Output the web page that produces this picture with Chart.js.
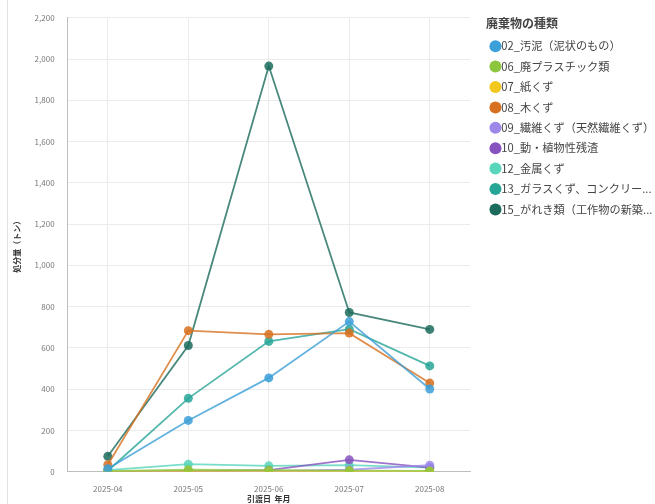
<!DOCTYPE html>
<html lang="ja">
<head>
<meta charset="utf-8">
<title>廃棄物の種類別 処分量</title>
<script src="https://cdn.jsdelivr.net/npm/chart.js@4"></script>
<style>
  html, body { margin: 0; padding: 0; background: #fff; }
  #wrap { position: relative; height: 504px; width: 648px; margin-left: 7px; box-sizing: border-box; border-left: 1px solid #e2e2e2; }
</style>
</head>
<body>
<div id="wrap"><canvas id="wasteChart"></canvas></div>
<script>
const months = ['2025-04', '2025-05', '2025-06', '2025-07', '2025-08']

const wasteTypes = [
  '02_汚泥（泥状のもの）',
  '06_廃プラスチック類',
  '07_紙くず',
  '08_木くず',
  '09_繊維くず（天然繊維くず）',
  '10_動・植物性残渣',
  '12_金属くず',
  '13_ガラスくず、コンクリートくず及び陶磁器くず',
  '15_がれき類（工作物の新築、改築又は除去に伴って生じたコンクリートの破片）'
]

const sludge   = [15, 249, 455, 728, 401]
const plastic  = [3, 10, 8, 6, 4]
const paper    = [1, 3, 2, 2, 1]
const wood     = [34, 684, 666, 672, 430]
const fiber    = [0, 0, 3, 10, 32]
const residue  = [0, 2, 8, 58, 20]
const metal    = [8, 37, 29, 32, 20]
const glass    = [5, 356, 632, 691, 513]
const rubble   = [75, 612, 1966, 772, 690]

const seriesValues = [sludge, plastic, paper, wood, fiber, residue, metal, glass, rubble]
const colors = ['#3b9fd8', '#8cc63f', '#f2c81e', '#d7701f', '#9d88ea', '#8753bf', '#58d6bb', '#27a597', '#1c6b5d']

const yTicks = { min: 0, max: 2200, step: 200 }

function alpha(hex, a) {
  const n = parseInt(hex.slice(1), 16)
  return `rgba(${(n >> 16) & 255}, ${(n >> 8) & 255}, ${n & 255}, ${a})`
}

const datasets = wasteTypes.map((name, i) => ({
  label: name,
  data: seriesValues[i],
  borderColor: alpha(colors[i], 0.8),
  backgroundColor: alpha(colors[i], 0.85),
  pointBackgroundColor: alpha(colors[i], 0.85),
  pointBorderWidth: 0,
  borderWidth: 1.8,
  pointRadius: 4.5,
  pointHoverRadius: 6,
  tension: 0
}))

// cut long legend names so they fit beside the plot
function shorten(ctx, text, maxW) {
  if (ctx.measureText(text).width <= maxW) return text
  let t = text
  while (t.length > 1 && ctx.measureText(t + '...').width > maxW) t = t.slice(0, -1)
  return t + '...'
}

const fontFamily = '"Noto Sans CJK JP", "Noto Sans", sans-serif'
const legendSize = 11.2
const ctx = document.getElementById('wasteChart').getContext('2d')

const myChart = new Chart(ctx, {
  type: 'line',
  data: { labels: months, datasets: datasets },
  options: {
    responsive: true,
    maintainAspectRatio: false,
    animation: false,
    layout: { padding: { top: 12, right: 0, bottom: 0, left: 4 } },
    plugins: {
      legend: {
        position: 'right',
        align: 'start',
        maxWidth: 169,
        title: {
          display: true,
          position: 'start',
          text: '廃棄物の種類',
          color: '#444',
          font: { family: fontFamily, size: 12, weight: 'bold' },
          padding: { top: 5, bottom: 0 }
        },
        labels: {
          usePointStyle: true,
          pointStyle: 'circle',
          boxWidth: 0.5,
          boxHeight: 8.5,
          padding: 9.2,
          color: '#444',
          font: { family: fontFamily, size: legendSize },
          generateLabels(chart) {
            const items = Chart.defaults.plugins.legend.labels.generateLabels(chart)
            const c = chart.ctx
            c.save()
            c.font = `${legendSize}px ${fontFamily}`
            items.forEach(it => {
              it.text = shorten(c, it.text, 153)
              it.fillStyle = colors[it.datasetIndex]
              it.strokeStyle = colors[it.datasetIndex]
              it.lineWidth = 0
            })
            c.restore()
            return items
          }
        }
      },
      tooltip: { enabled: true }
    },
    scales: {
      x: {
        offset: true,
        grid: { color: '#ebebeb', drawTicks: false },
        border: { color: '#bdbdbd', width: 1 },
        ticks: { color: '#777', font: { family: fontFamily, size: 8 }, padding: 12 },
        title: {
          display: true,
          text: '引渡日  年月',
          color: '#333',
          font: { family: fontFamily, size: 8, weight: 'bold' },
          padding: { top: -11, bottom: 0 }
        }
      },
      y: {
        min: yTicks.min,
        max: yTicks.max,
        grid: { color: '#ebebeb', drawTicks: false },
        border: { color: '#bdbdbd', width: 1 },
        ticks: {
          stepSize: yTicks.step,
          color: '#777',
          font: { family: fontFamily, size: 8 },
          padding: 13,
          callback: v => v.toLocaleString('en-US')
        },
        title: {
          display: true,
          text: '処分量（トン）',
          color: '#333',
          font: { family: fontFamily, size: 8, weight: 'bold' },
          padding: { top: 0, bottom: 0 }
        }
      },
      // blank spacer between the plot and the legend
      gap: {
        position: 'right',
        grid: { display: false },
        border: { display: false },
        ticks: { display: false },
        afterFit: scale => { scale.width = 16 }
      }
    }
  }
})
</script>
</body>
</html>
